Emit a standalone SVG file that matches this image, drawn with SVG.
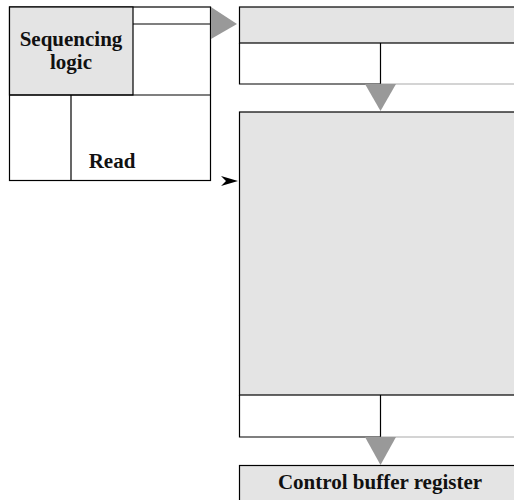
<svg xmlns="http://www.w3.org/2000/svg" width="514" height="500" viewBox="0 0 514 500">
<style>
.box{stroke:#000;stroke-width:1.2;}
.sh{fill:#e4e4e4;}
.wh{fill:#fff;}
.ln{stroke:#000;stroke-width:1.2;fill:none;}
.lg{stroke:#aaa;stroke-width:1.2;fill:none;}
.tri{fill:#999;}
text{font-family:"Liberation Serif","Times New Roman",serif;font-weight:bold;font-size:21px;fill:#111;text-anchor:middle;}
</style>
<rect width="514" height="500" fill="#fff"/>
<g id="sequencing">
<rect class="box wh" x="9.5" y="7" width="201" height="173.5"/>
<rect class="box sh" x="9.5" y="7" width="123.5" height="88"/>
<line class="ln" x1="133" y1="24" x2="210.5" y2="24"/>
<line class="ln" x1="9.5" y1="95" x2="210.5" y2="95"/>
<line class="ln" x1="71" y1="95" x2="71" y2="180.5"/>
<text x="71" y="46">Sequencing</text>
<text x="71" y="69">logic</text>
<text x="112" y="168">Read</text>
</g>
<g id="address-register">
<rect class="box sh" x="239.5" y="7" width="280" height="36"/>
<path class="ln" d="M239.5,43 V84 H380.5 V43"/>
<line class="lg" x1="380.5" y1="84" x2="514" y2="84"/>
</g>
<g id="control-memory">
<rect class="box sh" x="239.5" y="112" width="280" height="283"/>
<path class="ln" d="M239.5,395 V437 H380.5 V395"/>
<line class="lg" x1="380.5" y1="437" x2="514" y2="437"/>
</g>
<g id="buffer-register">
<rect class="box sh" x="239.5" y="465.5" width="280" height="40"/>
<text x="380" y="489">Control buffer register</text>
</g>
<g id="connectors">
<polygon class="tri" points="211,7 237,24 211,39"/>
<polygon class="tri" points="365,84 396,84 380.5,111"/>
<polygon class="tri" points="365,437 396,437 380.5,465"/>
<polygon fill="#000" points="221,176 238,181 221,186 226,181"/>
</g>
</svg>
